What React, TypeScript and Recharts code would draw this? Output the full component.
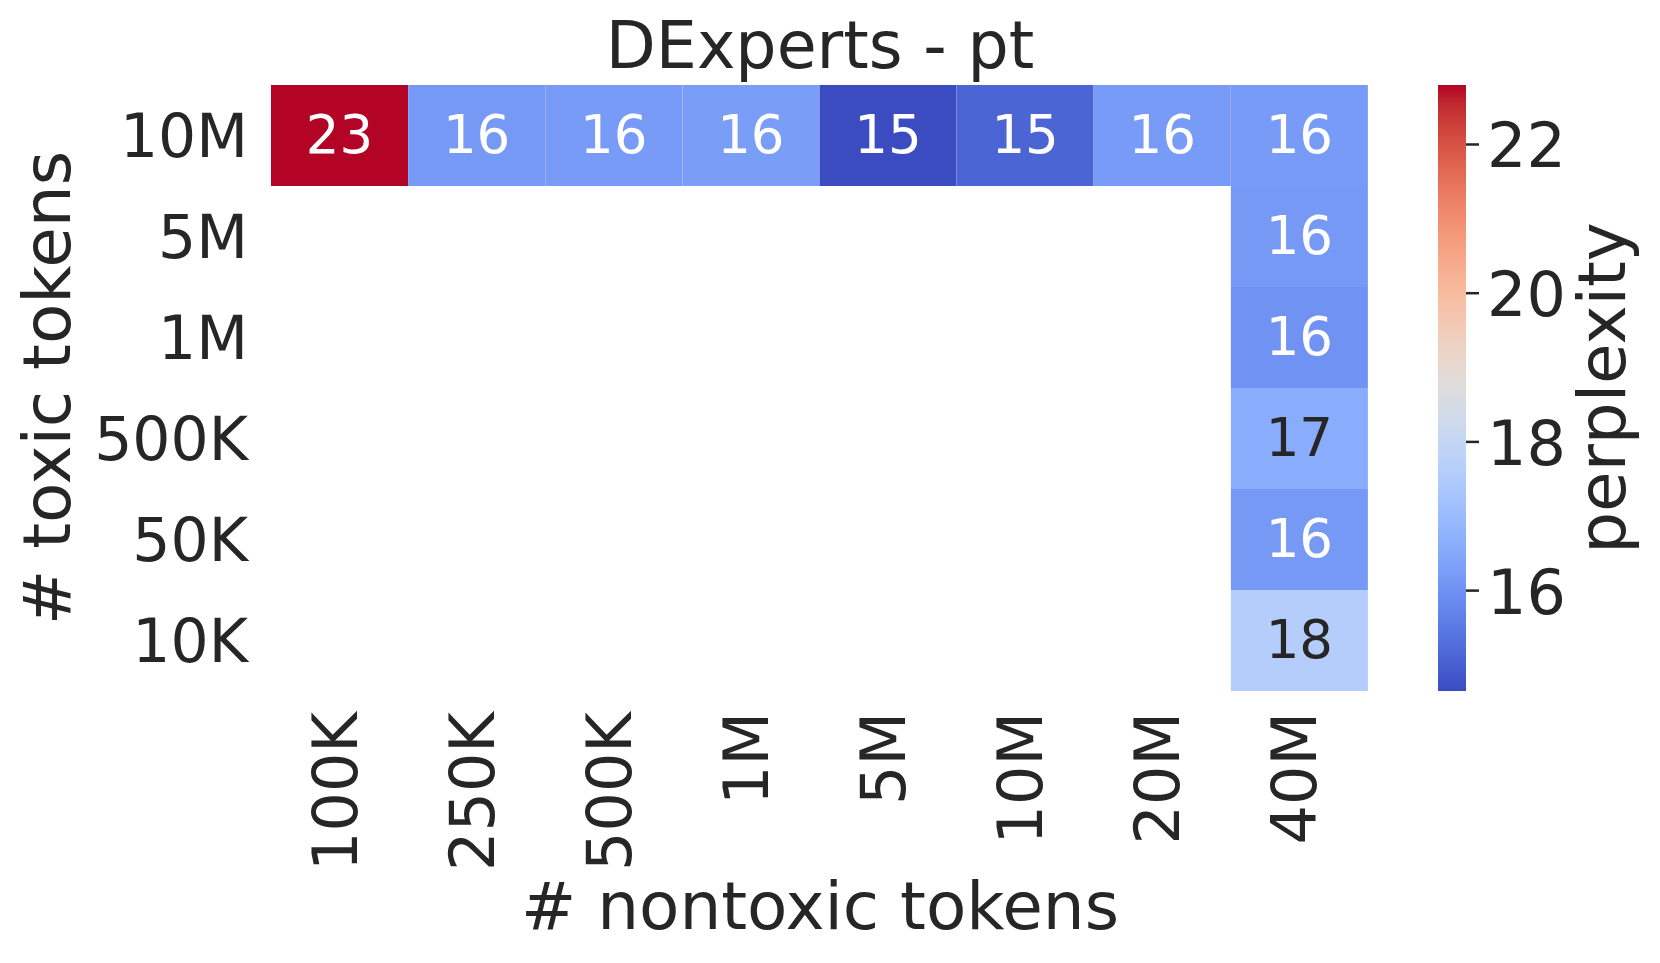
import React from "react"
import { BarChart, Bar, XAxis, YAxis, Cell, LabelList } from "recharts"

const nontoxicTokens = ["100K", "250K", "500K", "1M", "5M", "10M", "20M", "40M"]
const toxicTokens = ["10M", "5M", "1M", "500K", "50K", "10K"]

// perplexity per toxic-token row (null = not run)
const ppl10M = [22.8, 16.15, 16.2, 16.25, 14.65, 15.1, 16.2, 16.2]
const ppl5M = [null, null, null, null, null, null, null, 16.15]
const ppl1M = [null, null, null, null, null, null, null, 16.0]
const ppl500K = [null, null, null, null, null, null, null, 16.6]
const ppl50K = [null, null, null, null, null, null, null, 16.15]
const ppl10K = [null, null, null, null, null, null, null, 17.6]

const cbarTicks = [16, 18, 20, 22]

const rows = [ppl10M, ppl5M, ppl1M, ppl500K, ppl50K, ppl10K]
const allVals = rows.flat().filter((v) => v != null) as number[]
const vmin = Math.min(...allVals)
const vmax = Math.max(...allVals)

// matplotlib coolwarm (Moreland), 33 stops
const COOLWARM = [
  [59, 76, 192], [68, 90, 204], [77, 104, 215], [87, 117, 225], [98, 130, 234],
  [108, 142, 241], [119, 154, 247], [130, 165, 251], [141, 176, 254], [152, 185, 255],
  [163, 194, 255], [174, 201, 253], [184, 208, 249], [194, 213, 244], [204, 217, 238],
  [213, 219, 230], [221, 221, 221], [229, 216, 209], [236, 211, 197], [241, 204, 185],
  [245, 196, 173], [247, 187, 160], [247, 177, 148], [247, 166, 135], [244, 154, 123],
  [241, 141, 111], [236, 127, 99], [229, 112, 88], [222, 96, 77], [213, 80, 66],
  [203, 62, 56], [192, 40, 47], [180, 4, 38],
]

function coolwarmRgb(t: number) {
  const c = Math.max(0, Math.min(1, t)) * 32
  const i = Math.min(31, Math.floor(c))
  const f = c - i
  return COOLWARM[i].map((a, k) => Math.round(a + (COOLWARM[i + 1][k] - a) * f))
}

function colorFor(v: number) {
  const [r, g, b] = coolwarmRgb((v - vmin) / (vmax - vmin))
  return `rgb(${r},${g},${b})`
}

function textColorFor(v: number) {
  const lin = coolwarmRgb((v - vmin) / (vmax - vmin)).map((c) => {
    const s = c / 255
    return s <= 0.03928 ? s / 12.92 : Math.pow((s + 0.055) / 1.055, 2.4)
  })
  const lum = 0.2126 * lin[0] + 0.7152 * lin[1] + 0.0722 * lin[2]
  return lum > 0.408 ? "#262626" : "#ffffff"
}

const data = nontoxicTokens.map((name, j) => {
  const d: Record<string, any> = { name }
  rows.forEach((r, i) => {
    d[`slot${i}`] = 1
    d[`ppl${i}`] = r[j]
  })
  return d
})

const cbarData = [{ name: "perplexity", range: [vmin, vmax] }]

const FONT = "DejaVu Sans"
const INK = "#262626"

const renderAnnot = (props: any) => {
  const { x, y, width, height, value } = props
  if (value == null) return null
  return (
    <text
      x={Number(x) + Number(width) / 2}
      y={Number(y) + Number(height) / 2 + 17}
      textAnchor="middle"
      fontFamily={FONT}
      fontSize={53}
      fill={textColorFor(value)}
    >
      {Math.round(value)}
    </text>
  )
}

const XTick = ({ x, y, payload }: any) => {
  const bx = x + 17
  const by = y + 21
  return (
    <text x={bx} y={by} textAnchor="end" fontFamily={FONT} fontSize={62} fill={INK} transform={`rotate(-90, ${bx}, ${by})`}>
      {payload.value}
    </text>
  )
}

const YTick = ({ x, y, payload }: any) => (
  <text x={x} y={y + 21} textAnchor="end" fontFamily={FONT} fontSize={60} fill={INK}>
    {toxicTokens[5 - Math.floor(payload.value)]}
  </text>
)

const CbarTick = ({ x, y, payload }: any) => (
  <text x={x} y={y + 23} textAnchor="start" fontFamily={FONT} fontSize={62} fill={INK}>
    {payload.value}
  </text>
)

export default function App() {
  return (
    <div style={{ position: "absolute", left: 0, top: 0, width: 1660, height: 963, background: "#fff" }}>
      <div style={{ position: "absolute", left: 0, top: 0 }}>
        <BarChart
          width={1400}
          height={963}
          data={data}
          margin={{ top: 85, right: 32, bottom: 72, left: 0 }}
          barCategoryGap={0}
          barGap={0}
        >
          <XAxis
            dataKey="name"
            type="category"
            height={200}
            interval={0}
            axisLine={false}
            tickLine={false}
            tickSize={0}
            tickMargin={0}
            tick={<XTick />}
          />
          <YAxis
            type="number"
            domain={[0, 6]}
            ticks={[0.5, 1.5, 2.5, 3.5, 4.5, 5.5]}
            width={271}
            axisLine={false}
            tickLine={false}
            tickSize={0}
            tickMargin={23}
            tick={<YTick />}
          />
          {[5, 4, 3, 2, 1, 0].map((i) => (
            <Bar key={i} dataKey={`slot${i}`} stackId="grid" isAnimationActive={false}>
              {data.map((d, j) => (
                <Cell key={j} fill={d[`ppl${i}`] == null ? "transparent" : colorFor(d[`ppl${i}`])} />
              ))}
              <LabelList dataKey={`ppl${i}`} content={renderAnnot} />
            </Bar>
          ))}
          <text x={820} y={68} textAnchor="middle" fontFamily={FONT} fontSize={65} fill={INK}>
            DExperts - pt
          </text>
          <text x={820} y={929} textAnchor="middle" fontFamily={FONT} fontSize={66} fill={INK}>
            # nontoxic tokens
          </text>
          <text x={70} y={388} textAnchor="middle" fontFamily={FONT} fontSize={66} fill={INK} transform="rotate(-90, 70, 388)">
            # toxic tokens
          </text>
        </BarChart>
      </div>
      <div style={{ position: "absolute", left: 1438, top: 0 }}>
        <BarChart
          width={222}
          height={963}
          data={cbarData}
          margin={{ top: 85, right: 44, bottom: 272, left: 0 }}
          barCategoryGap={0}
        >
          <defs>
            <linearGradient id="coolwarmGrad" x1="0" y1="1" x2="0" y2="0">
              {COOLWARM.map((c, i) => (
                <stop key={i} offset={`${(i / 32) * 100}%`} stopColor={`rgb(${c[0]},${c[1]},${c[2]})`} />
              ))}
            </linearGradient>
          </defs>
          <XAxis dataKey="name" hide />
          <YAxis
            orientation="right"
            type="number"
            domain={[vmin, vmax]}
            ticks={cbarTicks}
            width={150}
            axisLine={false}
            tickSize={13}
            tickMargin={8}
            tickLine={{ stroke: INK, strokeWidth: 2.5 }}
            tick={<CbarTick />}
          />
          <Bar dataKey="range" fill="url(#coolwarmGrad)" isAnimationActive={false} />
          <text x={187} y={388} textAnchor="middle" fontFamily={FONT} fontSize={66} fill={INK} transform="rotate(-90, 187, 388)">
            perplexity
          </text>
        </BarChart>
      </div>
    </div>
  )
}
